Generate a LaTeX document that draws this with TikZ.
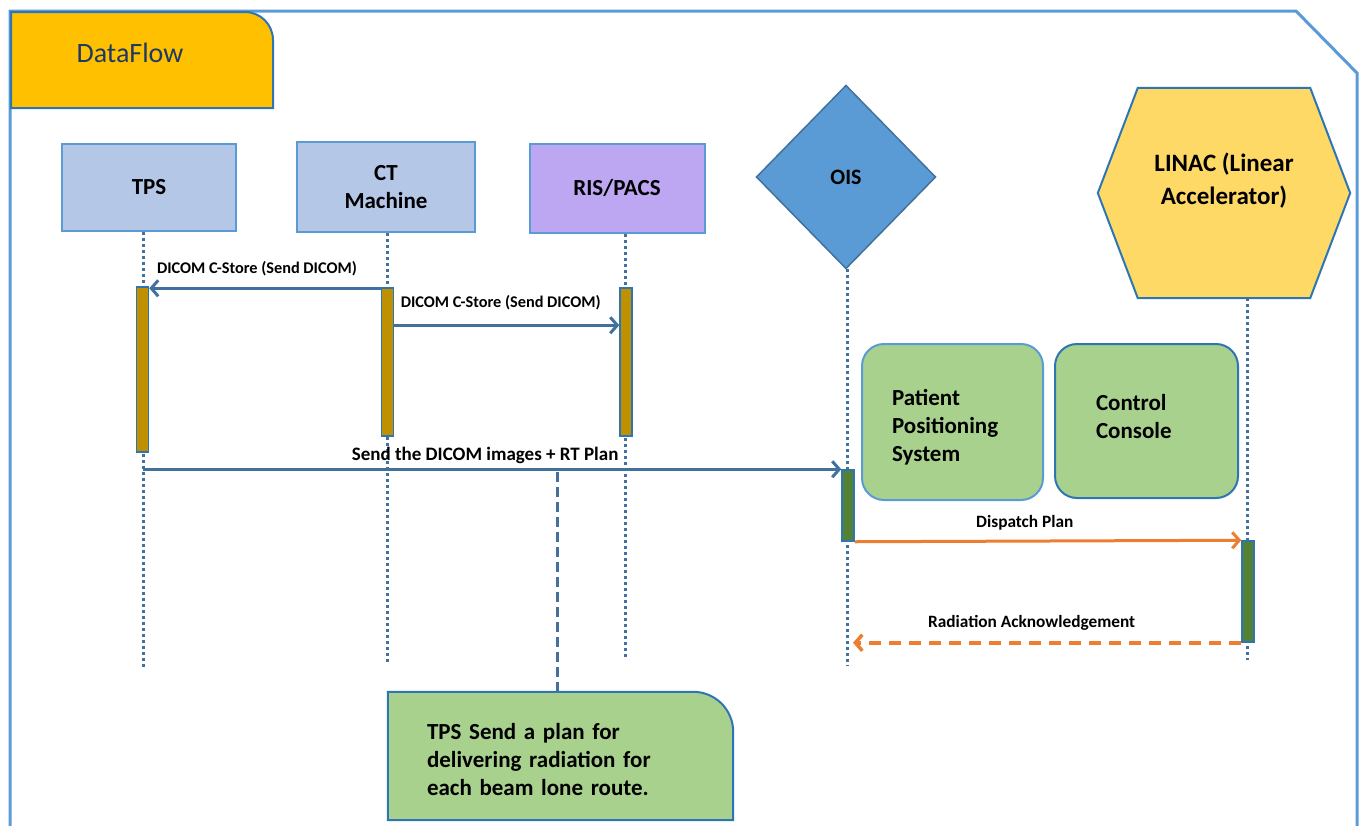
\documentclass[tikz,border=0pt]{standalone}
\usepackage{fontspec}
\setmainfont{Carlito}
\usetikzlibrary{arrows.meta,calc}
\definecolor{frameblue}{HTML}{5B9BD5}
\definecolor{darkblue}{HTML}{2E75B6}
\definecolor{steel}{HTML}{41719C}
\definecolor{tabgold}{HTML}{FFC000}
\definecolor{boxblue}{HTML}{B4C7E7}
\definecolor{boxpurple}{HTML}{BDA7F2}
\definecolor{hexyellow}{HTML}{FFD966}
\definecolor{notegreen}{HTML}{A9D18E}
\definecolor{bargold}{HTML}{BF9000}
\definecolor{bargreen}{HTML}{548235}
\definecolor{arroworange}{HTML}{ED7D31}
\definecolor{titleblue}{HTML}{203864}
\begin{document}
\begin{tikzpicture}[x=1pt,y=-1pt,
  frame/.style={draw=frameblue,line width=3pt},
  actor/.style={draw=frameblue,line width=2pt,inner sep=0pt,align=center,
    font=\fontsize{23}{28}\selectfont\bfseries},
  life/.style={draw=steel,line width=3pt,dash pattern=on 3pt off 3pt},
  bar/.style={draw=darkblue,line width=1.5pt,minimum width=12pt,inner sep=0pt},
  msg/.style={draw=steel,line width=3pt,-{Straight Barb[length=7pt,width=16pt]}},
  omsg/.style={draw=arroworange,line width=3pt,-{Straight Barb[length=7pt,width=16pt]}},
  lbl/.style={font=\fontsize{16.3}{19}\selectfont\bfseries,inner sep=0pt},
  greenbox/.style={fill=notegreen,line width=2pt,rounded corners=22pt,inner sep=0pt,
    align=left,font=\fontsize{23}{28}\selectfont\bfseries},
]
\useasboundingbox (0,0) rectangle (1360,825);
% outer frame
\draw[frame] (10,826) -- (10,11) -- (1296,11) -- (1357,73) -- (1357,826);
% title tab
\draw[fill=tabgold,draw=darkblue,line width=2pt] (11,108) -- (11,12) -- (245,12)
  arc[start angle=90,end angle=0,radius=28pt] -- (273,108) -- cycle;
\node[font=\fontsize{28}{32}\selectfont,text=titleblue] (title) at (130,53) {DataFlow};

% actors
\node[actor,fill=boxblue,minimum width=174pt,minimum height=87pt] (tps) at (149,187) {TPS};
\node[actor,fill=boxblue,minimum width=178pt,minimum height=90pt] (ct) at (386,187) {CT\\Machine};
\node[actor,fill=boxpurple,minimum width=175pt,minimum height=89pt] (ris) at (617,188) {RIS/PACS};
\coordinate (oisc) at (846,177);
\draw[fill=frameblue,draw=steel,line width=1.5pt] ([yshift=91.5pt]oisc) coordinate (oisN)
  -- ([xshift=89.5pt]oisc) -- ([yshift=-91.5pt]oisc) coordinate (oisS) -- ([xshift=-89.5pt]oisc) -- cycle;
\node[inner sep=0pt,font=\fontsize{22}{26}\selectfont\bfseries] (ois) at (oisc) {OIS};
\node[inner sep=0pt,minimum width=252pt,minimum height=210pt] (linac) at (1224,193) {};
\draw[fill=hexyellow,draw=darkblue,line width=2pt] (linac.west) -- ([xshift=40pt]linac.north west)
  -- ([xshift=-40pt]linac.north east) -- (linac.east) -- ([xshift=-40pt]linac.south east)
  -- ([xshift=40pt]linac.south west) -- cycle;
\node[align=center,font=\fontsize{25}{33}\selectfont\bfseries] (linactext) at ([yshift=12pt]linac.center) {LINAC (Linear\\Accelerator)};

% lifeline ends
\coordinate (tpsE) at (143,668);
\coordinate (ctE) at (387,662);
\coordinate (risE) at (625,658);
\coordinate (oisE) at (847,665);
\coordinate (linE) at (1247,660);
\draw[life] (tps.south -| tpsE) -- (tpsE);
\draw[life] (ct.south -| ctE) -- (ctE);
\draw[life] (ris.south -| risE) -- (risE);
\draw[life] (oisS -| oisE) -- (oisE);
\draw[life] (linac.south -| linE) -- (linE);

% activation bars
\node[bar,fill=bargold,minimum height=165pt] (tpsbar) at (142.5,369.5) {};
\node[bar,fill=bargold,minimum height=148pt] (ctbar) at (387.5,362) {};
\node[bar,fill=bargold,minimum height=148pt] (risbar) at (626,362) {};
\node[bar,fill=bargreen,minimum height=71pt] (oisbar) at (848,505.5) {};
\node[bar,fill=bargreen,minimum height=101pt] (linbar) at (1248,591.5) {};

% green boxes
\node[greenbox,draw=frameblue,minimum width=181pt,minimum height=156pt,text width=121pt,inner xsep=30pt] (pps) at (952.5,422) {\rule{0pt}{27pt}Patient\\Positioning\\System};
\node[greenbox,draw=darkblue,minimum width=183pt,minimum height=154pt,text width=101pt,inner xsep=41pt] (cc) at (1146.5,421) {Control\\Console\rule[-10pt]{0pt}{10pt}};

% messages
\draw[msg] ([yshift=-1pt]ctbar.north west) coordinate (m1s) -- (m1s -| tpsbar.east)
  node[lbl,midway,above=11pt,xshift=-8pt] {DICOM C-Store (Send DICOM)};
\draw[msg] ([yshift=-38pt]ctbar.north east) coordinate (m2s) -- (m2s -| risbar.west)
  node[lbl,midway,above=14pt,xshift=-6pt] {DICOM C-Store (Send DICOM)};
\draw[msg] (tpsE |- oisbar.north) -- (oisbar.north west)
  node[lbl,font=\fontsize{19}{22}\selectfont\bfseries,pos=0.49,above=4pt] {Send the DICOM images + RT Plan};
\draw[omsg] (oisbar.south east) -- (linbar.north west)
  node[lbl,font=\fontsize{17.3}{20}\selectfont\bfseries,pos=0.44,above=9pt] {Dispatch Plan};
\draw[omsg,line width=3.5pt,dash pattern=on 12pt off 8pt] (linbar.south west) -- ([xshift=6pt]oisE |- linbar.south west)
  node[lbl,font=\fontsize{17.3}{20}\selectfont\bfseries,pos=0.54,above=11pt] {Radiation Acknowledgement};

% note callout
\node[inner sep=0pt,minimum width=345pt,minimum height=128pt] (note) at (560.5,756) {};
\draw[fill=notegreen,draw=darkblue,line width=2pt] (note.south west) -- (note.north west)
  -- ([xshift=-40pt]note.north east) arc[start angle=90,end angle=0,radius=40pt]
  -- (note.south east) -- cycle;
\node[inner sep=0pt,text width=267pt,align=left,font=\fontsize{23}{28}\selectfont\bfseries,
  anchor=west] (notetext) at ([xshift=39pt,yshift=-4pt]note.west) {TPS Send a plan for\\delivering radiation for\\each beam lone route.};
\draw[steel,line width=3pt,dash pattern=on 10pt off 5pt] ([xshift=-3pt]note.north) -- ([xshift=-3pt]note.north |- oisbar.north);
\end{tikzpicture}
\end{document}
